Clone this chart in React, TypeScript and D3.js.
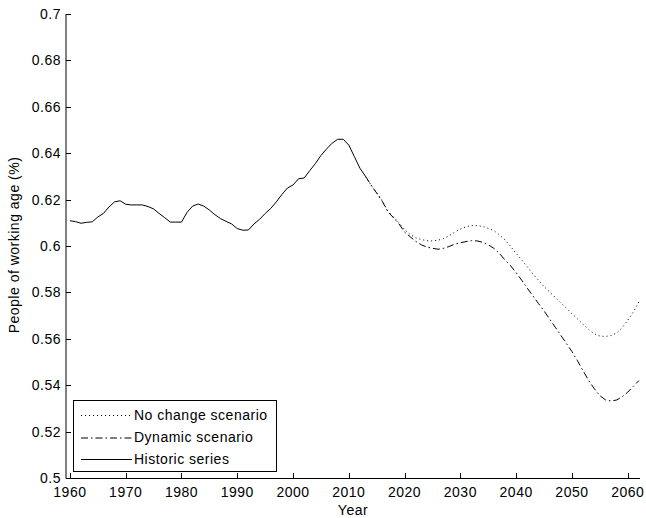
import React from "react";
import * as d3 from "d3";

const historicYears = [1960,1961,1962,1963,1964,1965,1966,1967,1968,1969,1970,1971,1972,1973,1974,1975,1976,1977,1978,1979,1980,1981,1982,1983,1984,1985,1986,1987,1988,1989,1990,1991,1992,1993,1994,1995,1996,1997,1998,1999,2000,2001,2002,2003,2004,2005,2006,2007,2008,2009,2010,2011,2012,2013];
const historicValues = [0.6109,0.6105,0.6098,0.6102,0.6104,0.6125,0.6140,0.6168,0.6190,0.6195,0.6180,0.6177,0.6177,0.6177,0.6170,0.6160,0.6140,0.6122,0.6103,0.6103,0.6103,0.6145,0.6172,0.6181,0.6172,0.6155,0.6135,0.6118,0.6106,0.6095,0.6075,0.6068,0.6069,0.6095,0.6115,0.6140,0.6162,0.6190,0.6222,0.6250,0.6263,0.6290,0.6293,0.6325,0.6355,0.6390,0.6418,0.6443,0.6460,0.6460,0.6435,0.6385,0.6335,0.6300];

const scenarioYears = [2013,2014,2015,2016,2017,2018,2019,2020,2021,2022,2023,2024,2025,2026,2027,2028,2029,2030,2031,2032,2033,2034,2035,2036,2037,2038,2039,2040,2041,2042,2043,2044,2045,2046,2047,2048,2049,2050,2051,2052,2053,2054,2055,2056,2057,2058,2059,2060,2061,2062];
const noChangeValues = [0.6300,0.6262,0.6230,0.6195,0.6150,0.6125,0.6100,0.6070,0.6050,0.6035,0.6028,0.6023,0.6022,0.6025,0.6032,0.6045,0.6060,0.6073,0.6083,0.6088,0.6088,0.6084,0.6076,0.6066,0.6048,0.6026,0.5998,0.5968,0.5940,0.5910,0.5880,0.5852,0.5825,0.5802,0.5778,0.5755,0.5732,0.5708,0.5686,0.5662,0.5640,0.5622,0.5612,0.5610,0.5614,0.5625,0.5648,0.5680,0.5715,0.5760];
const dynamicValues = [0.6300,0.6262,0.6228,0.6192,0.6148,0.6122,0.6095,0.6060,0.6040,0.6020,0.6005,0.5995,0.5990,0.5986,0.5990,0.5998,0.6008,0.6014,0.6019,0.6023,0.6022,0.6016,0.6005,0.5990,0.5968,0.5940,0.5915,0.5885,0.5852,0.5818,0.5785,0.5752,0.5720,0.5685,0.5650,0.5615,0.5580,0.5545,0.5505,0.5462,0.5420,0.5385,0.5355,0.5337,0.5332,0.5336,0.5350,0.5370,0.5395,0.5420];

const xTicks = [1960,1970,1980,1990,2000,2010,2020,2030,2040,2050,2060];
const yTicks = [0.5,0.52,0.54,0.56,0.58,0.6,0.62,0.64,0.66,0.68,0.7];

const legendLabels = ["No change scenario", "Dynamic scenario", "Historic series"];

const W = 646, H = 518;
const FONT = "'Liberation Sans', Arial, sans-serif";

export default function App() {
  const x = d3.scaleLinear().domain([1959.3, 2062.2]).range([66, 640]);
  const y = d3.scaleLinear().domain([0.5, 0.7]).range([478, 14]);
  const line = d3.line<[number, number]>().x(d => x(d[0])).y(d => y(d[1]));

  const hist = historicYears.map((yr, i) => [yr, historicValues[i]] as [number, number]);
  const noCh = scenarioYears.map((yr, i) => [yr, noChangeValues[i]] as [number, number]);
  const dyn = scenarioYears.map((yr, i) => [yr, dynamicValues[i]] as [number, number]);

  const dotDash = "1,3";
  const dashDot = "7,3,1.5,3";
  const dashes = [dotDash, dashDot, null];
  const lx = 73, ly = 400, lw = 203, lh = 71;
  const rowY = [415, 437.5, 459];
  const fs = 14;
  const ls = 0.5;

  return (
    <svg width={W} height={H} style={{ position: "absolute", left: 0, top: 0, background: "#fff" }} fontFamily={FONT}>
      <rect x={0} y={0} width={W} height={H} fill="#fff" />
      <path d={line(noCh) ?? ""} fill="none" stroke="#000" strokeWidth={1} strokeDasharray={dotDash} />
      <path d={line(dyn) ?? ""} fill="none" stroke="#000" strokeWidth={1} strokeDasharray={dashDot} />
      <path d={line(hist) ?? ""} fill="none" stroke="#000" strokeWidth={1} />
      <line x1={66} x2={66} y1={14} y2={478.5} stroke="#000" strokeWidth={1} />
      <line x1={66} x2={640} y1={478.5} y2={478.5} stroke="#000" strokeWidth={1} />
      {yTicks.map(t => (
        <g key={"y" + t}>
          <line x1={66} x2={71} y1={Math.round(y(t)) + 0.5} y2={Math.round(y(t)) + 0.5} stroke="#000" />
          <text x={61} y={y(t)} dy="0.35em" textAnchor="end" fontSize={fs} letterSpacing={ls} fill="#000">{String(t)}</text>
        </g>
      ))}
      {xTicks.map(t => (
        <g key={"x" + t}>
          <line x1={Math.round(x(t)) + 0.5} x2={Math.round(x(t)) + 0.5} y1={478} y2={473} stroke="#000" />
          <text x={x(t)} y={497} textAnchor="middle" fontSize={fs} letterSpacing={ls} fill="#000">{String(t)}</text>
        </g>
      ))}
      <text x={353} y={515} textAnchor="middle" fontSize={fs} letterSpacing={ls} fill="#000">Year</text>
      <text transform={`translate(19,245) rotate(-90)`} textAnchor="middle" fontSize={fs} letterSpacing={ls} fill="#000">People of working age (%)</text>
      <rect x={lx + 0.5} y={ly + 0.5} width={lw} height={lh} fill="#fff" stroke="#000" strokeWidth={1} />
      {legendLabels.map((lab, i) => (
        <g key={lab}>
          <line x1={81} x2={132} y1={rowY[i] + 0.5} y2={rowY[i] + 0.5} stroke="#000" strokeDasharray={dashes[i] ?? undefined} />
          <text x={134} y={rowY[i]} dy="0.35em" fontSize={fs} letterSpacing={ls} fill="#000">{lab}</text>
        </g>
      ))}
    </svg>
  );
}
